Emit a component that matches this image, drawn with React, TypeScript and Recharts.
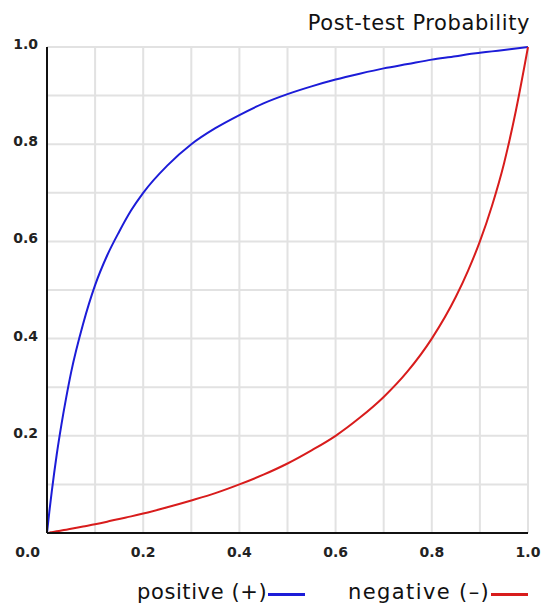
import React from "react"
import { LineChart, Line, XAxis, YAxis, CartesianGrid } from "recharts"

// pre-test probability sample points
const preTest = [0, 0.005, 0.01, 0.02, 0.03, 0.04, 0.05, 0.075, 0.1, 0.125, 0.15, 0.175, 0.2, 0.25, 0.3, 0.35, 0.4, 0.45, 0.5, 0.55, 0.6, 0.65, 0.7, 0.75, 0.8, 0.85, 0.875, 0.9, 0.925, 0.95, 0.975, 1.0]
// post-test probability
const positive = [0, 0.045, 0.086, 0.16, 0.223, 0.279, 0.33, 0.43, 0.51, 0.571, 0.62, 0.664, 0.7, 0.756, 0.8, 0.833, 0.86, 0.884, 0.903, 0.919, 0.933, 0.945, 0.956, 0.965, 0.974, 0.981, 0.985, 0.988, 0.991, 0.994, 0.997, 1.0]
const negative = [0, 0.0008, 0.0017, 0.0034, 0.0052, 0.0069, 0.0087, 0.0134, 0.018, 0.0233, 0.029, 0.0342, 0.04, 0.053, 0.067, 0.082, 0.1, 0.12, 0.143, 0.17, 0.2, 0.237, 0.28, 0.333, 0.4, 0.486, 0.539, 0.6, 0.673, 0.76, 0.87, 1.0]

const gridTicks = [0, 0.1, 0.2, 0.3, 0.4, 0.5, 0.6, 0.7, 0.8, 0.9, 1.0]
const labelledTicks = [0, 0.2, 0.4, 0.6, 0.8, 1.0]

const data = preTest.map((x, i) => ({ x, pos: positive[i], neg: negative[i] }))

const FONT = "'DejaVu Sans', sans-serif"
const BLUE = "#1c1cd8"
const RED = "#d81c1c"

const isLabelled = (v: number) => labelledTicks.some((t) => Math.abs(t - v) < 1e-6)

const XTick = (props: any) => {
 const { x, y, payload } = props
 const v = payload.value
 if (!isLabelled(v)) return null
 const corner = v === 0
 return (
  <text
   x={corner ? x - 7 : x}
   y={y}
   dy={16}
   textAnchor={corner ? "end" : "middle"}
   fontFamily={FONT}
   fontWeight="bold"
   fontSize={14}
   fill="#222">
   {v.toFixed(1)}
  </text>
 )
}

const YTick = (props: any) => {
 const { x, y, payload } = props
 const v = payload.value
 if (v === 0 || !isLabelled(v)) return null
 return (
  <text x={x - 1} y={y} dy={2} textAnchor="end" fontFamily={FONT} fontWeight="bold" fontSize={14} fill="#222">
   {v.toFixed(1)}
  </text>
 )
}

export default function App() {
 return (
  <div style={{ position: "absolute", left: 0, top: 0, width: 548, height: 609, background: "#fff" }}>
   <div
    style={{
     position: "absolute",
     right: 18,
     top: 11,
     fontFamily: FONT,
     fontSize: 21,
     letterSpacing: 0.6,
     color: "#111",
    }}>
    Post-test Probability
   </div>
   <LineChart width={548} height={609} data={data} margin={{ top: 47, right: 20, bottom: 0, left: 0 }}>
    <CartesianGrid stroke="#e2e2e2" strokeWidth={2} />
    <XAxis
     dataKey="x"
     type="number"
     domain={[0, 1]}
     ticks={gridTicks}
     interval={0}
     height={76}
     tickLine={false}
     axisLine={{ stroke: "#111", strokeWidth: 2 }}
     tick={<XTick />}
    />
    <YAxis
     type="number"
     domain={[0, 1]}
     ticks={gridTicks}
     interval={0}
     width={47}
     tickLine={false}
     axisLine={{ stroke: "#111", strokeWidth: 2 }}
     tick={<YTick />}
    />
    <Line type="monotone" dataKey="pos" stroke={BLUE} strokeWidth={2} dot={false} isAnimationActive={false} />
    <Line type="monotone" dataKey="neg" stroke={RED} strokeWidth={2} dot={false} isAnimationActive={false} />
   </LineChart>
   <div
    style={{
     position: "absolute",
     left: 137,
     top: 580,
     display: "flex",
     alignItems: "center",
     fontFamily: FONT,
     fontSize: 21,
     letterSpacing: 0.6,
     color: "#111",
     whiteSpace: "nowrap",
    }}>
    <span style={{ display: "inline-block", width: 131 }}>positive (+)</span>
    <span style={{ display: "inline-block", width: 37, height: 3, background: BLUE, marginTop: 4 }} />
    <span style={{ display: "inline-block", width: 141, marginLeft: 43, letterSpacing: 1.4 }}>negative (–)</span>
    <span style={{ display: "inline-block", width: 37, height: 3, background: RED, marginLeft: 2, marginTop: 4 }} />
   </div>
  </div>
 )
}
